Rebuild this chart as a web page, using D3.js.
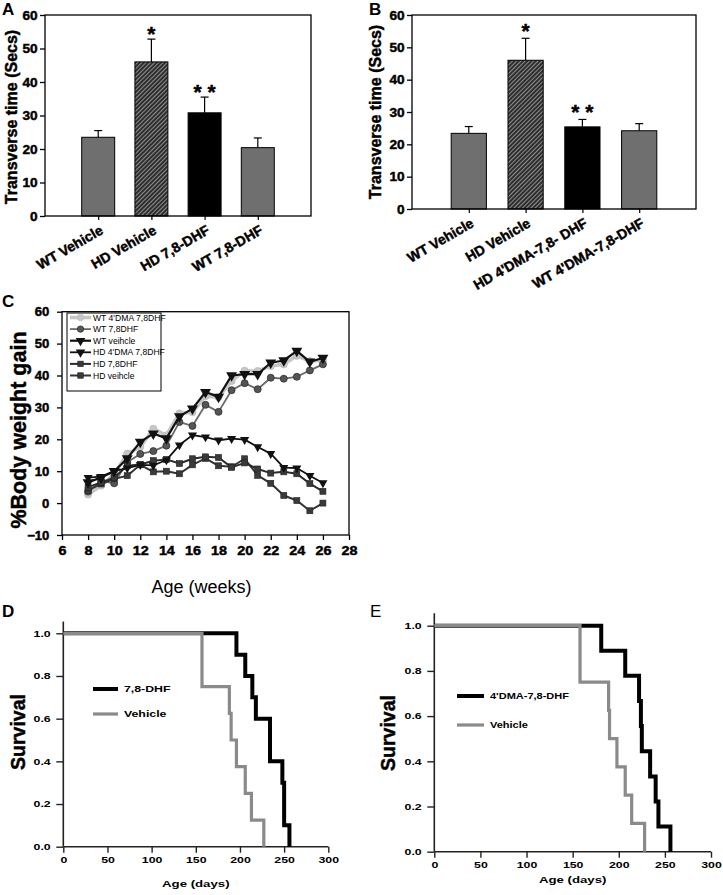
<!DOCTYPE html>
<html><head><meta charset="utf-8">
<script src="https://cdn.jsdelivr.net/npm/d3@7"></script>
<style>
body{margin:0;background:#fff}
svg{display:block}
text{font-family:"Liberation Sans",Arial,Helvetica,sans-serif}
.heavy{stroke:#000;stroke-width:0.45px}
</style></head><body>
<svg id="fig" width="723" height="895"></svg>
<script>
// ---------------- DATA ----------------
const barTicks = [0,10,20,30,40,50,60];
const catsA = ["WT Vehicle","HD Vehicle","HD 7,8-DHF","WT 7,8-DHF"];
const valsA = [23.5,46,30.8,20.4];
const errA  = [2.0,6.8,4.7,2.9];
const catsB = ["WT Vehicle","HD Vehicle","HD 4'DMA-7,8- DHF","WT 4'DMA-7,8-DHF"];
const valsB = [23.4,46,25.4,24.2];
const errB  = [2.1,6.8,2.3,2.2];
const sigMarks = ["","*","* *",""];
const barFills = ["grey","hatch","black","grey"];

const weeks   = [8,9,10,11,12,13,14,15,16,17,18,19,20,21,22,23,24,25,26];
const wt4dma  = [2.7,5.5,9,15.5,17.6,23.3,21.2,28.1,28.5,33.5,33.2,38.3,41.5,41.4,43,43.5,46.2,44.5,44.8];
const wt78    = [3.6,7,6.2,12.8,15.4,16.3,18,25.4,24.2,30.8,28.6,35.4,37.6,35.7,39.3,39,39.6,41.6,43.5];
const wtVeh   = [6.5,8,10,14,19.2,21.8,20.3,27.2,29.6,34.8,33.3,40,40.4,40.4,44,44.7,47.7,44.3,45.5];
const hd4dma  = [8,8.3,10,11,12,11.8,13.5,18.2,21.3,20.7,19.7,20.2,19.9,17.6,15.5,11.1,11,8.6,6.3];
const hd78    = [5,6.5,8,11.7,12.1,13.3,13.7,12.4,13.9,14.5,14.3,11.2,12.6,10.7,9.4,9.8,9.2,6.1,3.7];
const hdVeh   = [4,6,7.6,8.6,12,9.8,10,9.2,12,14,11.7,11.4,13.9,8.7,6.2,2.4,0.8,-2.4,0];
const seriesNames = ["WT 4'DMA 7,8DHF","WT 7,8DHF","WT veihcle","HD 4'DMA 7,8DHF","HD 7,8DHF","HD veihcle"];
const cTicksY = [-10,0,10,20,30,40,50,60];
const cTicksX = [6,8,10,12,14,16,18,20,22,24,26,28];

const survTicksY = [0,0.2,0.4,0.6,0.8,1.0];
const survTicksX = [0,50,100,150,200,250,300];
const dDrugT = [0,196,206,214,218,234,248,250,256];
const dDrugS = [1,0.9,0.8,0.7,0.6,0.4,0.3,0.1,0];
const dVehT  = [0,157,188,190,196,206,213,227];
const dVehS  = [1,0.75,0.625,0.5,0.375,0.25,0.125,0];
const eDrugT = [0,181,207,222,224,225,234,240,243,256];
const eDrugS = [1,0.889,0.778,0.667,0.556,0.444,0.333,0.222,0.111,0];
const eVehT  = [0,158,189,190,198,207,214,228];
const eVehS  = [1,0.75,0.625,0.5,0.375,0.25,0.125,0];

// ---------------- DRAW ----------------
const svg = d3.select("#fig");
const FF = '"Liberation Sans",Arial,sans-serif';
const defs = svg.append("defs");
const pat = defs.append("pattern").attr("id","hatch").attr("patternUnits","userSpaceOnUse")
  .attr("width",3).attr("height",3).attr("patternTransform","rotate(45)");
pat.append("rect").attr("width",3).attr("height",3).attr("fill","#2b2b2b");
pat.append("line").attr("x1",0.5).attr("y1",0).attr("x2",0.5).attr("y2",3).attr("stroke","#8e8e8e").attr("stroke-width",1.1);
const fillFor = f => f==="grey" ? "#6f6f6f" : f==="hatch" ? "url(#hatch)" : "#000";

function letter(txt,x,y,weight){
  svg.append("text").attr("x",x).attr("y",y).text(txt)
    .attr("font-size",17).attr("font-weight",weight||"bold");
}
function styleTicks(sel,size,stretch){
  sel.selectAll("text").attr("font-size",size).attr("font-weight","bold")
    .attr("font-family",FF).attr("fill","#000").attr("class","heavy");
  if(stretch) sel.selectAll("text").attr("transform",`scale(${stretch},1)`);
}

function barPanel(o){
  const g = svg.append("g");
  const n = o.cats.length;
  const x = d3.scaleLinear().domain([0,n+1]).range([o.left,o.right]);
  const y = d3.scaleLinear().domain([0,60]).range([o.bottom,o.top]);
  const bw = (x(1)-x(0))*0.62;
  const idx = d3.range(n);
  g.selectAll("line.err").data(idx).join("line")
    .attr("x1",i=>x(i+1)).attr("x2",i=>x(i+1))
    .attr("y1",i=>y(o.vals[i])).attr("y2",i=>y(o.vals[i]+o.errs[i]))
    .attr("stroke","#000").attr("stroke-width",1.2);
  g.selectAll("line.cap").data(idx).join("line")
    .attr("x1",i=>x(i+1)-4).attr("x2",i=>x(i+1)+4)
    .attr("y1",i=>y(o.vals[i]+o.errs[i])).attr("y2",i=>y(o.vals[i]+o.errs[i]))
    .attr("stroke","#000").attr("stroke-width",1.2);
  g.selectAll("rect.bar").data(idx).join("rect")
    .attr("x",i=>x(i+1)-bw/2).attr("width",bw)
    .attr("y",i=>y(o.vals[i])).attr("height",i=>y(0)-y(o.vals[i]))
    .attr("fill",i=>fillFor(barFills[i])).attr("stroke","#000").attr("stroke-width",1);
  g.selectAll("text.sig").data(idx).join("text")
    .attr("x",i=>x(i+1)).attr("y",i=>y(o.vals[i]+o.errs[i])+o.sigOff)
    .attr("text-anchor","middle").attr("font-size",21).attr("font-weight","bold").attr("class","heavy")
    .text(i=>sigMarks[i]);
  g.append("rect").attr("x",o.left).attr("y",o.top).attr("width",o.right-o.left).attr("height",o.bottom-o.top)
    .attr("fill","none").attr("stroke","#000").attr("stroke-width",1.3);
  const ay = g.append("g").attr("transform",`translate(${o.left},0)`)
    .call(d3.axisLeft(y).tickValues(barTicks).tickSize(5).tickSizeOuter(0).tickPadding(2));
  ay.select(".domain").remove();
  ay.selectAll("line").attr("stroke-width",1.3);
  styleTicks(ay,13,1.05);
  const ax = g.append("g").attr("transform",`translate(0,${o.bottom})`)
    .call(d3.axisBottom(x).tickValues(idx.map(i=>i+1)).tickSize(4).tickSizeOuter(0).tickFormat(""));
  ax.select(".domain").remove();
  ax.selectAll("line").attr("stroke-width",1.2);
  g.selectAll("text.cat").data(idx).join("text")
    .attr("transform",i=>`translate(${x(i+1)+o.labDx},${o.bottom+o.labDy}) rotate(-30)`)
    .attr("text-anchor","end").attr("font-size",o.catSize).attr("font-weight","bold").attr("class","heavy")
    .text(i=>o.cats[i]);
  g.append("text").attr("transform",`translate(${o.ylabX},${(o.top+o.bottom)/2+o.ylabDy}) rotate(-90)`)
    .attr("text-anchor","middle").attr("dy","0.35em").attr("font-size",16).attr("font-weight","bold")
    .attr("class","heavy").text("Transverse time (Secs)");
}

barPanel({cats:catsA,vals:valsA,errs:errA,left:45,right:311,top:15,bottom:216,
  labDx:6,labDy:17,catSize:14,ylabX:11,ylabDy:1.5,sigOff:2});
barPanel({cats:catsB,vals:valsB,errs:errB,left:412,right:696,top:15,bottom:209,
  labDx:6,labDy:17,catSize:14,ylabX:375,ylabDy:0,sigOff:0});
letter("A",2,15); letter("B",369,15);

// ---------- Panel C ----------
(function(){
  const L=62,R=349,T=311.7,B=535;
  const g = svg.append("g");
  const x = d3.scaleLinear().domain([6,28]).range([L,R]);
  const y = d3.scaleLinear().domain([-10,60]).range([B,T]);
  g.append("rect").attr("x",L).attr("y",T).attr("width",R-L).attr("height",B-T)
    .attr("fill","none").attr("stroke","#000").attr("stroke-width",1.3);
  const ay = g.append("g").attr("transform",`translate(${L},0)`)
    .call(d3.axisLeft(y).tickValues(cTicksY).tickSize(5).tickSizeOuter(0).tickPadding(7));
  ay.select(".domain").remove();
  ay.selectAll("line").attr("stroke-width",1.3);
  styleTicks(ay,12.5,1.05);
  const ax = g.append("g").attr("transform",`translate(0,${B})`)
    .call(d3.axisBottom(x).tickValues(cTicksX).tickSize(5).tickSizeOuter(0).tickPadding(6));
  ax.select(".domain").remove();
  ax.selectAll("line").attr("stroke-width",1.3);
  styleTicks(ax,12.5,1.15);
  g.append("text").attr("transform",`translate(18,${430}) rotate(-90)`)
    .attr("text-anchor","middle").attr("dy","0.35em").attr("font-size",21.5).attr("font-weight","bold")
    .attr("class","heavy").text("%Body weight gain");
  g.append("text").attr("x",(L+R)/2-4).attr("y",593).attr("text-anchor","middle")
    .attr("font-size",18).text("Age (weeks)");

  const tri = d3.symbol().type(d3.symbolTriangle);
  const series = [
    {vals:wt4dma, line:"#c6c6c6", lw:3.6, mark:"circle", mfill:"#c6c6c6", mstroke:"#bdbdbd", ms:3.6},
    {vals:wt78,   line:"#6a6a6a", lw:1.8, mark:"circle", mfill:"#555", mstroke:"#2e2e2e", ms:3.5},
    {vals:hdVeh,  line:"#333", lw:2, mark:"square", mfill:"#3a3a3a", mstroke:"#222", ms:6},
    {vals:hd78,   line:"#2c2c2c", lw:2, mark:"square", mfill:"#3a3a3a", mstroke:"#222", ms:6},
    {vals:hd4dma, line:"#111", lw:1.8, mark:"tri", mfill:"#111", mstroke:"#111", ms:36},
    {vals:wtVeh,  line:"#111", lw:2.2, mark:"tri", mfill:"#111", mstroke:"#111", ms:52},
  ];
  const line = d3.line().x((d,i)=>x(weeks[i])).y(d=>y(d));
  function drawMark(sel, s){
    if(s.mark==="circle") sel.append("circle").attr("r",s.ms).attr("fill",s.mfill).attr("stroke",s.mstroke).attr("stroke-width",0.8);
    else if(s.mark==="square") sel.append("rect").attr("x",-s.ms/2).attr("y",-s.ms/2).attr("width",s.ms).attr("height",s.ms).attr("fill",s.mfill).attr("stroke",s.mstroke).attr("stroke-width",0.6);
    else sel.append("path").attr("d",tri.size(s.ms)()).attr("transform","rotate(180)").attr("fill",s.mfill);
  }
  series.forEach(s=>{
    g.append("path").attr("d",line(s.vals)).attr("fill","none").attr("stroke",s.line).attr("stroke-width",s.lw).attr("stroke-linejoin","round");
    s.vals.forEach((v,i)=>{
      const m = g.append("g").attr("transform",`translate(${x(weeks[i])},${y(v)})`);
      drawMark(m,s);
    });
  });
  // legend
  const lg = g.append("g");
  lg.append("rect").attr("x",67).attr("y",313).attr("width",94).attr("height",78)
    .attr("fill","#fff").attr("stroke","#000").attr("stroke-width",1);
  const legOrder = [0,1,5,4,3,2];
  legOrder.forEach((si,k)=>{
    const s = series[si];
    const yy = 317.5+k*11.6;
    lg.append("line").attr("x1",70).attr("x2",91).attr("y1",yy).attr("y2",yy)
      .attr("stroke",s.line).attr("stroke-width",s.lw);
    const m = lg.append("g").attr("transform",`translate(80.5,${yy})`);
    drawMark(m, Object.assign({},s,{ms: s.mark==="tri"? 40 : s.mark==="square"? 5.5 : 3.2}));
    lg.append("text").attr("x",93).attr("y",yy).attr("dy","0.35em").attr("font-size",8.6)
      .attr("transform",`translate(${93*0.0},0)`).text(seriesNames[k]);
  });
})();
letter("C",2,307);

// ---------- Panels D & E ----------
function survPanel(o){
  const g = svg.append("g");
  const x = d3.scaleLinear().domain([0,300]).range([o.left,o.right]);
  const y = d3.scaleLinear().domain([0,1]).range([o.bottom,o.top1]);
  const step = d3.line().curve(d3.curveStepAfter).x(d=>x(d[0])).y(d=>y(d[1]));
  g.append("line").attr("x1",x(0)).attr("x2",x(0)).attr("y1",y(1.055)).attr("y2",y(0))
    .attr("stroke","#222").attr("stroke-width",1.6);
  g.append("line").attr("x1",x(0)).attr("x2",x(300)).attr("y1",y(0)).attr("y2",y(0))
    .attr("stroke","#222").attr("stroke-width",1.6);
  const ay = g.append("g").attr("transform",`translate(${x(0)},0)`)
    .call(d3.axisLeft(y).tickValues(survTicksY).tickSize(7).tickSizeOuter(0).tickPadding(2).tickFormat(d3.format(".1f")));
  ay.select(".domain").remove();
  ay.selectAll("line").attr("stroke","#222").attr("stroke-width",1.4);
  styleTicks(ay,8.8,1.4);
  ay.selectAll("text").attr("class",null);
  const ax = g.append("g").attr("transform",`translate(0,${y(0)})`)
    .call(d3.axisBottom(x).tickValues(survTicksX).tickSize(6).tickSizeOuter(0).tickPadding(4));
  ax.select(".domain").remove();
  ax.selectAll("line").attr("stroke","#222").attr("stroke-width",1.4);
  styleTicks(ax,8.8,1.4);
  ax.selectAll("text").attr("class",null);
  g.append("path").attr("d",step(o.drugT.map((t,i)=>[t,o.drugS[i]]))).attr("fill","none")
    .attr("stroke","#000").attr("stroke-width",4);
  g.append("path").attr("d",step(o.vehT.map((t,i)=>[t,o.vehS[i]]))).attr("fill","none")
    .attr("stroke","#8a8a8a").attr("stroke-width",3.2);
  g.append("line").attr("x1",o.legX).attr("x2",o.legX+o.legW).attr("y1",o.legY1).attr("y2",o.legY1)
    .attr("stroke","#000").attr("stroke-width",4);
  g.append("line").attr("x1",o.legX).attr("x2",o.legX+o.legW).attr("y1",o.legY2).attr("y2",o.legY2)
    .attr("stroke","#8a8a8a").attr("stroke-width",3.2);
  [[o.legY1,o.drugName],[o.legY2,"Vehicle"]].forEach(([yy,t])=>{
    g.append("text").attr("transform",`translate(${o.legX+o.legW+6},${yy}) scale(${o.legStretch},1)`)
      .attr("dy","0.35em").attr("font-size",8.8).attr("font-weight","bold").text(t);
  });
  g.append("text").attr("transform",`translate(${(o.left+o.right)/2},${o.xlabY}) scale(1.35,1)`)
    .attr("text-anchor","middle").attr("font-size",9.8).attr("font-weight","bold").text("Age (days)");
  g.append("text").attr("transform",`translate(${o.ylabX},${o.ylabY}) rotate(-90)`)
    .attr("text-anchor","middle").attr("dy","0.35em").attr("font-size",19.5).attr("font-weight","bold")
    .attr("class","heavy").text("Survival");
}
survPanel({left:63.3,right:328.3,bottom:846.7,top1:633.3,drugT:dDrugT,drugS:dDrugS,vehT:dVehT,vehS:dVehS,
  legX:93,legW:25,legY1:689,legY2:714,drugName:"7,8-DHF",legStretch:1.4,xlabY:887,ylabX:18,ylabY:732});
survPanel({left:434.3,right:711,bottom:851.7,top1:625.7,drugT:eDrugT,drugS:eDrugS,vehT:eVehT,vehS:eVehS,
  legX:457,legW:27,legY1:696,legY2:725,drugName:"4'DMA-7,8-DHF",legStretch:1.25,xlabY:883,ylabX:388,ylabY:733});
letter("D",2,617); letter("E",370,617,"normal");
</script>
</body></html>
